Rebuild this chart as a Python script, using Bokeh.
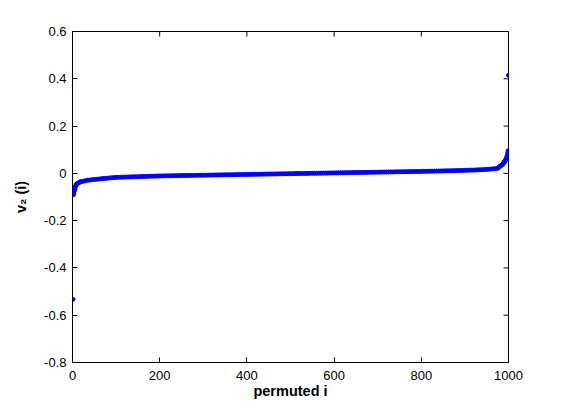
import math
from bokeh.plotting import figure
from bokeh.models import Range1d, FixedTicker
from bokeh.embed import file_html
from bokeh.resources import INLINE

# permuted index i and sorted second eigenvector entries v2(i)
idx_left = [1, 2, 3, 4, 5, 6, 7, 8, 9, 10, 12, 14, 16, 18]
v_left = [-0.533, -0.090, -0.085, -0.075, -0.068, -0.061, -0.055, -0.050,
          -0.047, -0.045, -0.042, -0.040, -0.038, -0.036]

idx_mid = list(range(20, 975, 5))
v_mid = [
    -0.0350, -0.0330, -0.0310, -0.0290, -0.0280, -0.0270, -0.0260, -0.0250,
    -0.0240, -0.0230, -0.0220, -0.0215, -0.0205, -0.0195, -0.0185, -0.0178,
    -0.0170, -0.0167, -0.0164, -0.0161, -0.0158, -0.0155, -0.0152, -0.0149,
    -0.0146, -0.0143, -0.0140, -0.0137, -0.0134, -0.0131, -0.0128, -0.0125,
    -0.0122, -0.0119, -0.0116, -0.0113, -0.0110,
    -0.0108, -0.0107, -0.0105, -0.0103, -0.0102, -0.0100, -0.0099, -0.0097,
    -0.0095, -0.0094, -0.0092, -0.0091, -0.0089, -0.0087, -0.0086, -0.0084,
    -0.0083, -0.0081, -0.0079, -0.0078,
    -0.0076, -0.0075, -0.0073, -0.0071, -0.0070, -0.0068, -0.0067, -0.0065,
    -0.0063, -0.0062, -0.0060, -0.0059, -0.0057, -0.0055, -0.0054, -0.0052,
    -0.0051, -0.0049, -0.0047, -0.0046,
    -0.0044, -0.0043, -0.0041, -0.0039, -0.0038, -0.0036, -0.0035, -0.0033,
    -0.0031, -0.0030, -0.0028, -0.0027, -0.0025, -0.0023, -0.0022, -0.0020,
    -0.0019, -0.0017, -0.0015, -0.0014,
    -0.0012, -0.0011, -0.0009, -0.0007, -0.0006, -0.0004, -0.0003, -0.0001,
    0.0001, 0.0002, 0.0004, 0.0005, 0.0007, 0.0009, 0.0010, 0.0012,
    0.0013, 0.0015, 0.0017, 0.0018,
    0.0020, 0.0021, 0.0023, 0.0025, 0.0026, 0.0028, 0.0029, 0.0031,
    0.0033, 0.0034, 0.0036, 0.0037, 0.0039, 0.0041, 0.0042, 0.0044,
    0.0045, 0.0047, 0.0049, 0.0050,
    0.0052, 0.0053, 0.0055, 0.0057, 0.0058, 0.0060, 0.0061, 0.0063,
    0.0065, 0.0066, 0.0068, 0.0069, 0.0071, 0.0073, 0.0074, 0.0076,
    0.0077, 0.0079, 0.0081, 0.0083,
    0.0085, 0.0087, 0.0089, 0.0091, 0.0093, 0.0095, 0.0097, 0.0099,
    0.0101, 0.0103, 0.0105, 0.0107, 0.0109, 0.0111, 0.0113, 0.0116,
    0.0119, 0.0122, 0.0125, 0.0128,
    0.0131, 0.0134, 0.0137, 0.0140, 0.0144, 0.0148, 0.0152, 0.0157,
    0.0162, 0.0168, 0.0175, 0.0183, 0.0192, 0.0202, 0.0215,
]

idx_right = [975, 978, 980, 982, 984, 986, 987, 988, 989, 990, 991, 992, 993,
             994, 995, 996, 997, 998, 999, 1000]
v_right = [0.0260, 0.0290, 0.0320, 0.0345, 0.0370, 0.0400, 0.0420, 0.0445,
           0.0470, 0.0490, 0.0520, 0.0550, 0.0590, 0.0630, 0.0680, 0.0750,
           0.0850, 0.0950, 0.4150, 0.5850]

x_ticks = [0, 200, 400, 600, 800, 1000]
y_ticks = [-0.8, -0.6, -0.4, -0.2, 0, 0.2, 0.4, 0.6]
y_tick_labels = ["-0.8", "-0.6", "-0.4", "-0.2", "0", "0.2", "0.4", "0.6"]

xs = idx_left + idx_mid + idx_right
ys = v_left + v_mid + v_right

p = figure(width=561, height=408, output_backend="svg", toolbar_location=None,
           x_range=Range1d(0, 1000), y_range=Range1d(-0.8, 0.6),
           min_border_left=72, min_border_right=53, min_border_top=31,
           min_border_bottom=46)
p.background_fill_color = "white"
p.border_fill_color = "white"
p.outline_line_color = "black"
p.xgrid.visible = False
p.ygrid.visible = False

p.scatter(xs, ys, size=4, color="#0000ff", line_color="#0000ff", line_width=1)

font = "Liberation Sans"
p.xaxis.ticker = FixedTicker(ticks=x_ticks)
p.yaxis.ticker = FixedTicker(ticks=y_ticks)
p.yaxis.major_label_overrides = {t: l for t, l in zip(y_ticks, y_tick_labels)}

for ax in list(p.xaxis) + list(p.yaxis):
    ax.major_tick_in = 5
    ax.major_tick_out = 0
    ax.minor_tick_line_color = None
    ax.axis_line_color = "black"
    ax.major_tick_line_color = "black"
    ax.major_label_text_font = font
    ax.major_label_text_font_size = "13px"
    ax.major_label_text_color = "black"
    ax.axis_label_text_font = font
    ax.axis_label_text_font_size = "14.5px"
    ax.axis_label_text_font_style = "bold"
    ax.axis_label_text_color = "black"

p.xaxis.axis_label = "permuted i"
p.xaxis.major_label_standoff = 8
p.xaxis.axis_label_standoff = 0
p.yaxis.axis_label = "v₂ (i)"
p.yaxis.major_label_standoff = 6
p.yaxis.axis_label_standoff = 12

# mirrored inward ticks on top and right edges (box on)
p.ray(x=x_ticks, y=[0.6] * len(x_ticks), length=5, length_units="screen",
      angle=-math.pi / 2, line_color="black", line_width=1)
p.ray(x=[1000] * len(y_ticks), y=y_ticks, length=5, length_units="screen",
      angle=math.pi, line_color="black", line_width=1)

open("out.html", "w").write(file_html(p, INLINE))
